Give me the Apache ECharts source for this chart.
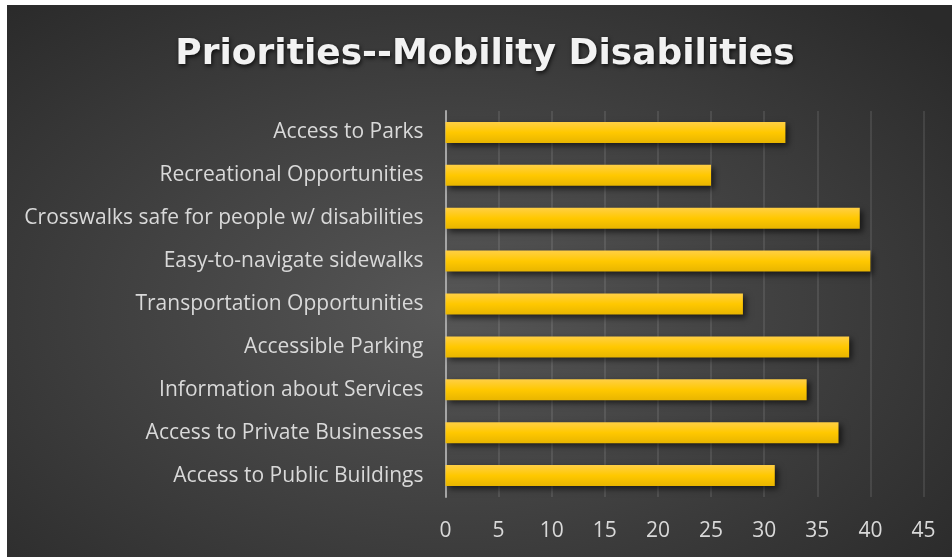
<!DOCTYPE html>
<html>
<head>
<meta charset="utf-8">
<script src="https://cdn.jsdelivr.net/npm/echarts@6/dist/echarts.min.js"></script>
<style>
  html, body { margin: 0; padding: 0; background: #ffffff; }
  #bg {
    position: absolute; left: 7px; top: 5px; width: 945px; height: 552px;
    background: radial-gradient(ellipse 70% 75% at 47% 55%, #575757 0%, #474747 35%, #2a2a2a 100%);
  }
  #chart { position: absolute; left: 0; top: 0; width: 952px; height: 557px; }
</style>
</head>
<body>
<div id="bg"></div>
<div id="chart"></div>
<script>
// Survey priorities for residents with mobility disabilities
const categories = [
  'Access to Public Buildings',
  'Access to Private Businesses',
  'Information about Services',
  'Accessible Parking',
  'Transportation Opportunities',
  'Easy-to-navigate sidewalks',
  'Crosswalks safe for people w/ disabilities',
  'Recreational Opportunities',
  'Access to Parks'
];
const values = [31, 37, 34, 38, 28, 40, 39, 25, 32];
const xTicks = { min: 0, max: 45, interval: 5 };
const titleText = 'Priorities--Mobility Disabilities';

const chart = echarts.init(document.getElementById('chart'), null, { renderer: 'canvas' });

const labelFont = '"Open Sans", Lato, sans-serif';

chart.setOption({
  backgroundColor: 'transparent',
  animation: false,
  title: {
    text: titleText,
    left: 480,
    top: 32,
    textAlign: 'center',
    textStyle: {
      fontFamily: '"DejaVu Sans", "Open Sans", sans-serif',
      fontWeight: 'bold',
      fontSize: 36,
      color: '#f2f2f2',
      textShadowColor: 'rgba(0,0,0,0.75)',
      textShadowBlur: 4,
      textShadowOffsetX: 1,
      textShadowOffsetY: 2
    }
  },
  grid: { left: 445.5, right: 28.5, top: 111, bottom: 60, containLabel: false },
  xAxis: {
    type: 'value',
    min: xTicks.min,
    max: xTicks.max,
    interval: xTicks.interval,
    axisLine: { show: false },
    axisTick: { show: false },
    axisLabel: {
      color: '#d9d9d9',
      fontFamily: labelFont,
      fontSize: 21,
      margin: 24
    },
    splitLine: { show: true, lineStyle: { color: 'rgba(255,255,255,0.13)', width: 1.5 } }
  },
  yAxis: {
    type: 'category',
    data: categories,
    axisLine: { show: true, lineStyle: { color: '#a6a6a6', width: 2 } },
    axisTick: { show: false },
    axisLabel: {
      color: '#d9d9d9',
      fontFamily: labelFont,
      fontSize: 21,
      margin: 22,
      padding: [2, 0, 0, 0]
    },
    splitLine: { show: false }
  },
  series: [{
    type: 'bar',
    data: values,
    barCategoryGap: '51%',
    itemStyle: {
      color: new echarts.graphic.LinearGradient(0, 0, 0, 1, [
        { offset: 0, color: '#ffcf45' },
        { offset: 0.5, color: '#ffc800' },
        { offset: 1, color: '#e8b500' }
      ]),
      shadowColor: 'rgba(0,0,0,0.6)',
      shadowBlur: 6,
      shadowOffsetX: 3,
      shadowOffsetY: 3
    }
  }]
});
</script>
</body>
</html>
